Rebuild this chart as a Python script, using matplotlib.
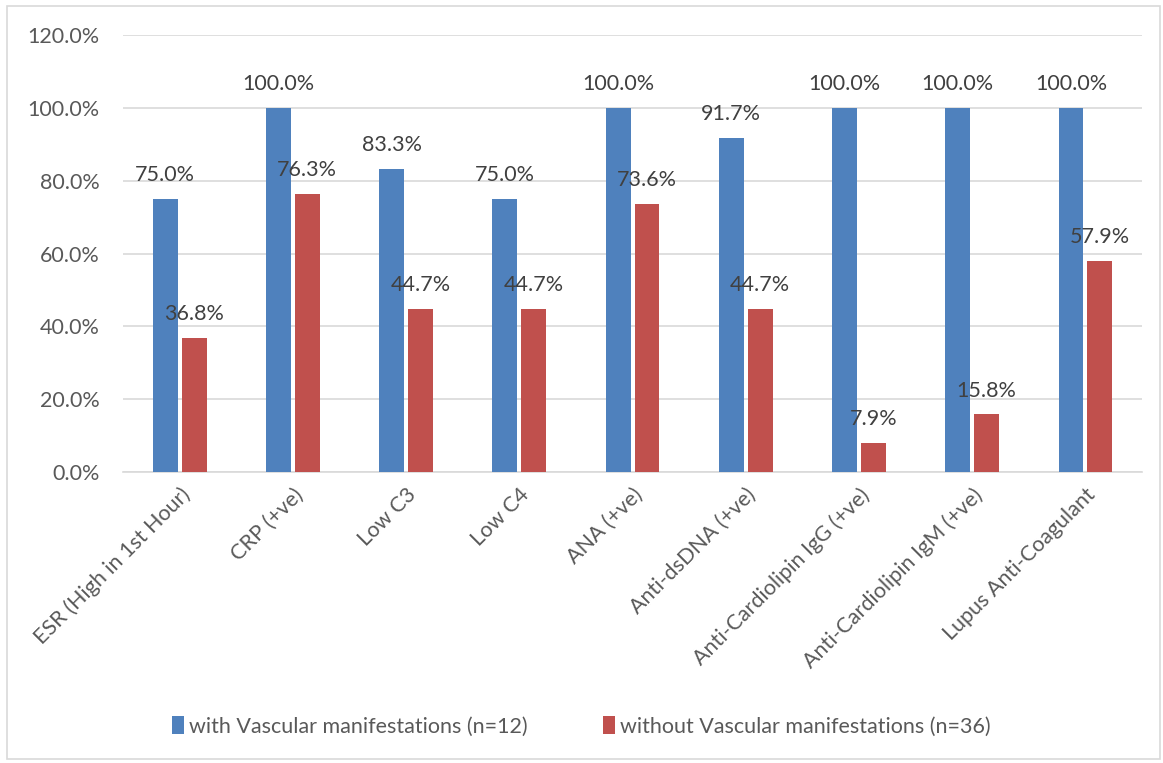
import numpy as np
import matplotlib.pyplot as plt
from matplotlib.patches import Rectangle

categories = ["ESR (High in 1st Hour)", "CRP (+ve)", "Low C3", "Low C4", "ANA (+ve)",
              "Anti-dsDNA (+ve)", "Anti-Cardiolipin IgG (+ve)",
              "Anti-Cardiolipin IgM (+ve)", "Lupus Anti-Coagulant"]
with_vasc = [75.0, 100.0, 83.3, 75.0, 100.0, 91.7, 100.0, 100.0, 100.0]
without_vasc = [36.8, 76.3, 44.7, 44.7, 73.6, 44.7, 7.9, 15.8, 57.9]
series_names = ["with Vascular manifestations (n=12)",
                "without Vascular manifestations (n=36)"]

plt.rcParams['font.family'] = ['Lato', 'DejaVu Sans']

fig = plt.figure(figsize=(11.63, 7.63), dpi=100)
ax = fig.add_axes([0.1058, 0.3814, 0.8762, 0.5727])

x = np.arange(len(categories))
w = 0.22
gap = 0.035
b1 = ax.bar(x - (w + gap) / 2, with_vasc, w, color='#4F81BD', label=series_names[0], zorder=3)
b2 = ax.bar(x + (w + gap) / 2, without_vasc, w, color='#C0504D', label=series_names[1], zorder=3)

for bars, vals in ((b1, with_vasc), (b2, without_vasc)):
    for r, v in zip(bars, vals):
        ax.annotate(f"{v:.1f}%", (r.get_x() + r.get_width() / 2, v),
                    xytext=(0, 10), textcoords='offset points',
                    ha='center', va='bottom', fontsize=15.5, color='#404040', zorder=4)

ax.set_xlim(-0.5, len(categories) - 0.5)
ax.set_ylim(0, 120)
ax.set_yticks(np.arange(0, 121, 20))
ax.set_yticklabels([f"{t:.1f}%" for t in np.arange(0, 121, 20)])
ax.yaxis.grid(True, color='#D9D9D9', linewidth=1.2, zorder=0)
ax.set_axisbelow(True)

ax.set_xticks(x)
ax.set_xticklabels(categories, rotation=45, ha='right', rotation_mode='anchor')
ax.tick_params(axis='both', length=0, labelsize=15.5, labelcolor='#595959')
ax.tick_params(axis='y', pad=17)
ax.tick_params(axis='x', pad=9)

for s in ['top', 'right', 'left']:
    ax.spines[s].set_visible(False)
ax.spines['bottom'].set_color('#D9D9D9')
ax.spines['bottom'].set_linewidth(1.2)

fig.legend(handles=[b1, b2], loc='center', bbox_to_anchor=(0.5, 0.048), ncol=2,
           frameon=False, fontsize=15.5, handlelength=0.55, handleheight=0.85,
           handletextpad=0.25, columnspacing=3.5, labelcolor='#595959')

fig.patches.append(Rectangle((0.006, 0.005), 0.991, 0.987, transform=fig.transFigure,
                             fill=False, edgecolor='#D9D9D9', linewidth=1.2))

fig.savefig('out.png', dpi=100)
